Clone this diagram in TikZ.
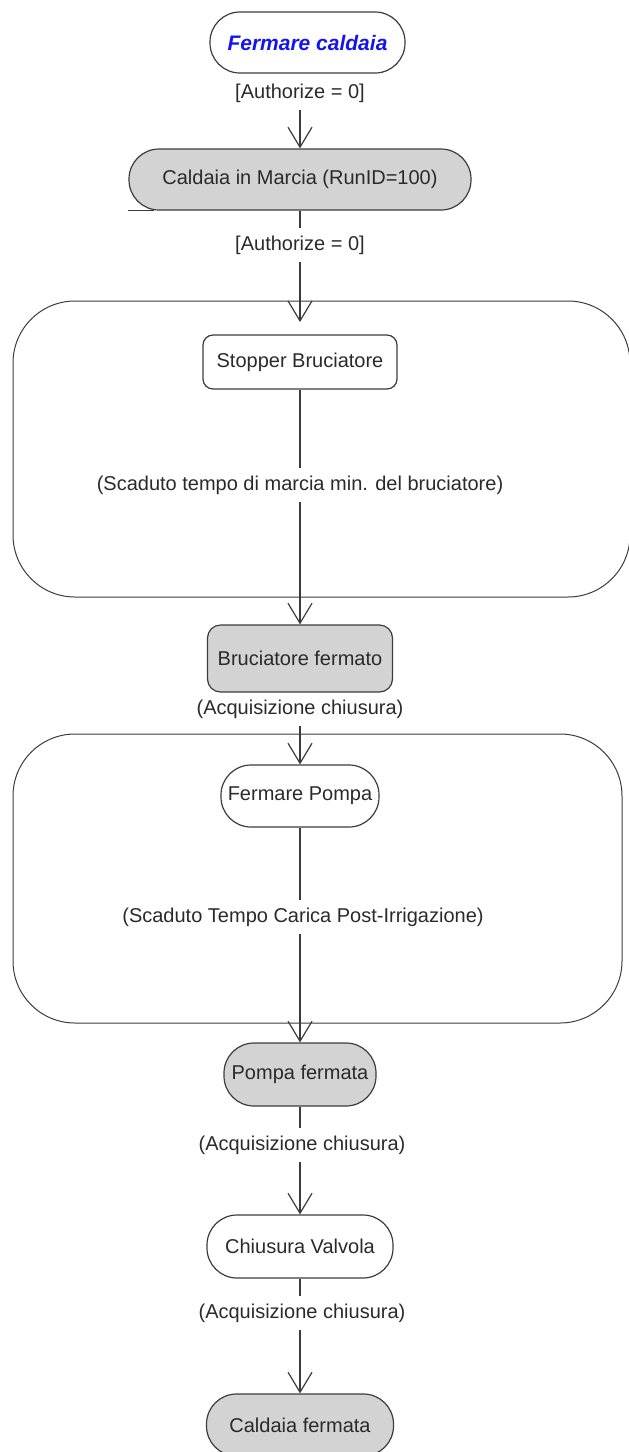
\documentclass[tikz,border=0pt]{standalone}
\usepackage{fontspec}
\setmainfont{Liberation Sans}
\usetikzlibrary{arrows.meta,positioning}
\definecolor{linegray}{HTML}{3C3C3C}
\definecolor{textgray}{HTML}{2A2A2A}
\definecolor{fillgray}{HTML}{D3D3D3}
\definecolor{titleblue}{HTML}{1414F0}
\tikzset{
  statebox/.style={draw=linegray, line width=1.2pt, rounded corners=30pt, align=center,
    minimum height=62pt, inner sep=0pt, font=\fontsize{20}{24}\selectfont, text=textgray},
  stopbox/.style={statebox, fill=fillgray},
  actbox/.style={statebox, rounded corners=11pt},
  regionbox/.style={draw=linegray, line width=1pt, rounded corners=62pt, inner sep=0pt},
  guard/.style={font=\fontsize{20}{24}\selectfont, text=textgray, inner xsep=2pt,
    inner ysep=7pt, text height=15pt, text depth=4pt},
  link/.style={draw=linegray, line width=1.2pt},
  arr/.style={link, -{Straight Barb[length=20pt, width=24pt]}}
}
\begin{document}
\begin{tikzpicture}[x=1pt,y=-1pt]
  \useasboundingbox (0,0) rectangle (629,1452);
  \clip (0,0) rectangle (629,1452);
  % composite regions
  \node[regionbox, minimum width=617pt, minimum height=296pt] (reg1) at (321.5,449) {};
  \node[regionbox, minimum width=609pt, minimum height=289pt] (reg2) at (317.5,878.5) {};
  % states
  \node[statebox, minimum width=195pt, minimum height=61pt, text=titleblue,
    font=\fontsize{21}{24}\selectfont\bfseries\itshape] (start) at (307.5,42.5) {Fermare caldaia};
  \node[guard] (lab1) at (300,93) {[Authorize = 0]};
  \node[stopbox, minimum width=342pt, minimum height=61pt] (run) at (300,179.5) {Caldaia in Marcia (RunID=100)};
  \node[guard] (lab2) at (300,245) {[Authorize = 0]};
  \coordinate (in1) at (300,322);
  \node[actbox, minimum width=194pt, minimum height=54pt, rounded corners=10pt] (stopper) at (300,362) {Stopper Bruciatore};
  \node[guard] (lab3) at (300,485) {(Scaduto tempo di marcia min. del bruciatore)};
  \node[stopbox, minimum width=185pt, minimum height=67pt, rounded corners=13pt] (brfer) at (300,658.5) {Bruciatore fermato};
  \node[guard] (lab4) at (300,709) {(Acquisizione chiusura)};
  \node[statebox, minimum width=158pt] (pumpoff) at (300,796) {Fermare Pompa};
  \node[guard] (lab5) at (303,917) {(Scaduto Tempo Carica Post-Irrigazione)};
  \node[stopbox, minimum width=152pt, minimum height=63pt] (pumpstop) at (300,1074.5) {Pompa fermata};
  \node[guard] (lab6) at (302,1145) {(Acquisizione chiusura)};
  \node[statebox, minimum width=186pt, minimum height=63pt] (valve) at (300,1246.5) {Chiusura Valvola};
  \node[guard] (lab7) at (302,1313) {(Acquisizione chiusura)};
  \node[stopbox, minimum width=187pt] (endst) at (300,1425) {Caldaia fermata};
  % transitions
  \draw[arr] (lab1.south -| run) -- (run);
  \draw[link] (run.south west) -- ++(26,0);
  \draw[link] (run) -- (lab2.north -| run);
  \draw[arr] (lab2.south -| in1) -- (in1);
  \draw[link] (stopper) -- (lab3.north -| stopper);
  \draw[arr] (lab3.south -| brfer) -- (brfer);
  \draw[arr] (lab4.south -| pumpoff) -- (pumpoff);
  \draw[link] (pumpoff) -- (lab5.north -| pumpoff);
  \draw[arr] (lab5.south -| pumpstop) -- (pumpstop);
  \draw[link] (pumpstop) -- (lab6.north -| pumpstop);
  \draw[arr] (lab6.south -| valve) -- (valve);
  \draw[link] (valve) -- (lab7.north -| valve);
  \draw[arr] (lab7.south -| endst) -- (endst);
\end{tikzpicture}
\end{document}
